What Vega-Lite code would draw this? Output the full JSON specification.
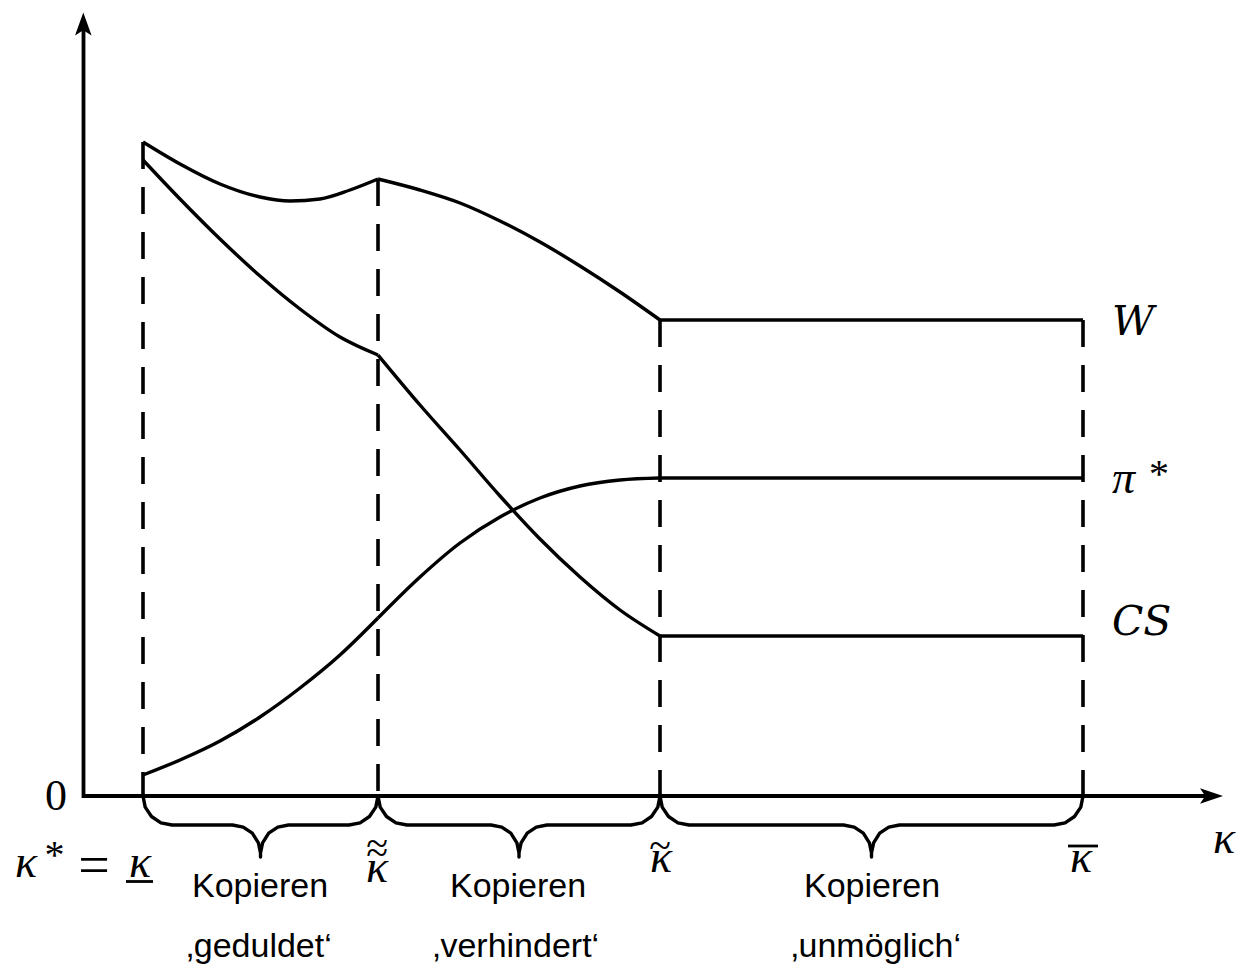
{
  "$schema": "https://vega.github.io/schema/vega-lite/v6.json",
  "width": 1238,
  "height": 968,
  "padding": 0,
  "autosize": {"type": "fit", "contains": "padding"},
  "background": "white",
  "config": {"view": {"stroke": null}},
  "datasets": {
    "axes": [
      {"x": -0.5, "y": -2, "x2": -0.5, "y2": 772},
      {"x": -2, "y": 0, "x2": 1128, "y2": 0}
    ],
    "arrowUp": [{"x": -0.7, "y": 772}],
    "arrowRight": [{"x": 1127.5, "y": 0}],
    "dashes": [
      {"x": 59, "y": 654, "y2": 0},
      {"x": 294, "y": 617, "y2": 0},
      {"x": 576, "y": 476, "y2": 0},
      {"x": 999, "y": 476, "y2": 0}
    ],
    "bars": [
      {"x": 984, "x2": 1014, "y": -50, "y2": -50},
      {"x": 42, "x2": 69, "y": -85.5, "y2": -85.5}
    ],
    "curves": [
      {"seg": "W1", "x": 59, "y": 654}, {"seg": "W1", "x": 96, "y": 632}, {"seg": "W1", "x": 136, "y": 612}, {"seg": "W1", "x": 176, "y": 599}, {"seg": "W1", "x": 206, "y": 595}, {"seg": "W1", "x": 236, "y": 597}, {"seg": "W1", "x": 266, "y": 606}, {"seg": "W1", "x": 294, "y": 617},
      {"seg": "W2", "x": 294, "y": 617}, {"seg": "W2", "x": 336, "y": 606}, {"seg": "W2", "x": 376, "y": 593}, {"seg": "W2", "x": 416, "y": 575}, {"seg": "W2", "x": 456, "y": 554}, {"seg": "W2", "x": 496, "y": 530}, {"seg": "W2", "x": 536, "y": 504}, {"seg": "W2", "x": 576, "y": 476},
      {"seg": "W3", "x": 576, "y": 476}, {"seg": "W3", "x": 999, "y": 476},
      {"seg": "CS1", "x": 59, "y": 636}, {"seg": "CS1", "x": 96, "y": 597}, {"seg": "CS1", "x": 136, "y": 557}, {"seg": "CS1", "x": 176, "y": 520}, {"seg": "CS1", "x": 216, "y": 487}, {"seg": "CS1", "x": 256, "y": 459}, {"seg": "CS1", "x": 294, "y": 441},
      {"seg": "CS2", "x": 294, "y": 441}, {"seg": "CS2", "x": 336, "y": 391}, {"seg": "CS2", "x": 376, "y": 346}, {"seg": "CS2", "x": 416, "y": 300}, {"seg": "CS2", "x": 456, "y": 257}, {"seg": "CS2", "x": 496, "y": 219}, {"seg": "CS2", "x": 536, "y": 186}, {"seg": "CS2", "x": 576, "y": 160},
      {"seg": "CS3", "x": 576, "y": 160}, {"seg": "CS3", "x": 999, "y": 160},
      {"seg": "P1", "x": 59, "y": 21}, {"seg": "P1", "x": 96, "y": 36}, {"seg": "P1", "x": 136, "y": 55}, {"seg": "P1", "x": 176, "y": 79}, {"seg": "P1", "x": 216, "y": 108}, {"seg": "P1", "x": 256, "y": 141}, {"seg": "P1", "x": 294, "y": 178},
      {"seg": "P2", "x": 294, "y": 178}, {"seg": "P2", "x": 336, "y": 219}, {"seg": "P2", "x": 376, "y": 253}, {"seg": "P2", "x": 416, "y": 279}, {"seg": "P2", "x": 456, "y": 298}, {"seg": "P2", "x": 496, "y": 310}, {"seg": "P2", "x": 536, "y": 316}, {"seg": "P2", "x": 576, "y": 318},
      {"seg": "P3", "x": 576, "y": 318}, {"seg": "P3", "x": 999, "y": 318}
    ],
    "braces": [
      {"b": 1, "i": 1, "x": 59, "y": 0}, {"b": 1, "i": 2, "x": 61.2, "y": -11.1}, {"b": 1, "i": 3, "x": 67.5, "y": -20.5}, {"b": 1, "i": 4, "x": 76.9, "y": -26.8}, {"b": 1, "i": 5, "x": 88, "y": -29}, {"b": 1, "i": 6, "x": 148.5, "y": -29}, {"b": 1, "i": 7, "x": 159.2, "y": -31.1}, {"b": 1, "i": 8, "x": 168.3, "y": -37.2}, {"b": 1, "i": 9, "x": 174.4, "y": -46.9}, {"b": 1, "i": 10, "x": 176.5, "y": -57}, {"b": 1, "i": 11, "x": 176.5, "y": -61}, {"b": 1, "i": 12, "x": 176.5, "y": -57}, {"b": 1, "i": 13, "x": 178.6, "y": -46.9}, {"b": 1, "i": 14, "x": 184.7, "y": -37.2}, {"b": 1, "i": 15, "x": 193.8, "y": -31.1}, {"b": 1, "i": 16, "x": 204.5, "y": -29}, {"b": 1, "i": 17, "x": 265, "y": -29}, {"b": 1, "i": 18, "x": 276.1, "y": -26.8}, {"b": 1, "i": 19, "x": 285.5, "y": -20.5}, {"b": 1, "i": 20, "x": 291.8, "y": -11.1}, {"b": 1, "i": 21, "x": 294, "y": 0},
      {"b": 2, "i": 1, "x": 294, "y": 0}, {"b": 2, "i": 2, "x": 296.2, "y": -11.1}, {"b": 2, "i": 3, "x": 302.5, "y": -20.5}, {"b": 2, "i": 4, "x": 311.9, "y": -26.8}, {"b": 2, "i": 5, "x": 323, "y": -29}, {"b": 2, "i": 6, "x": 407, "y": -29}, {"b": 2, "i": 7, "x": 417.7, "y": -31.1}, {"b": 2, "i": 8, "x": 426.8, "y": -37.2}, {"b": 2, "i": 9, "x": 432.9, "y": -46.9}, {"b": 2, "i": 10, "x": 435, "y": -57}, {"b": 2, "i": 11, "x": 435, "y": -61}, {"b": 2, "i": 12, "x": 435, "y": -57}, {"b": 2, "i": 13, "x": 437.1, "y": -46.9}, {"b": 2, "i": 14, "x": 443.2, "y": -37.2}, {"b": 2, "i": 15, "x": 452.3, "y": -31.1}, {"b": 2, "i": 16, "x": 463, "y": -29}, {"b": 2, "i": 17, "x": 547, "y": -29}, {"b": 2, "i": 18, "x": 558.1, "y": -26.8}, {"b": 2, "i": 19, "x": 567.5, "y": -20.5}, {"b": 2, "i": 20, "x": 573.8, "y": -11.1}, {"b": 2, "i": 21, "x": 576, "y": 0},
      {"b": 3, "i": 1, "x": 576, "y": 0}, {"b": 3, "i": 2, "x": 578.2, "y": -11.1}, {"b": 3, "i": 3, "x": 584.5, "y": -20.5}, {"b": 3, "i": 4, "x": 593.9, "y": -26.8}, {"b": 3, "i": 5, "x": 605, "y": -29}, {"b": 3, "i": 6, "x": 759.5, "y": -29}, {"b": 3, "i": 7, "x": 770.2, "y": -31.1}, {"b": 3, "i": 8, "x": 779.3, "y": -37.2}, {"b": 3, "i": 9, "x": 785.4, "y": -46.9}, {"b": 3, "i": 10, "x": 787.5, "y": -57}, {"b": 3, "i": 11, "x": 787.5, "y": -61}, {"b": 3, "i": 12, "x": 787.5, "y": -57}, {"b": 3, "i": 13, "x": 789.6, "y": -46.9}, {"b": 3, "i": 14, "x": 795.7, "y": -37.2}, {"b": 3, "i": 15, "x": 804.8, "y": -31.1}, {"b": 3, "i": 16, "x": 815.5, "y": -29}, {"b": 3, "i": 17, "x": 970, "y": -29}, {"b": 3, "i": 18, "x": 981.1, "y": -26.8}, {"b": 3, "i": 19, "x": 990.5, "y": -20.5}, {"b": 3, "i": 20, "x": 996.8, "y": -11.1}, {"b": 3, "i": 21, "x": 999, "y": 0}
    ],
    "seriesLabels": [
      {"t": "W", "x": 1028, "y": 461},
      {"t": "CS", "x": 1028, "y": 161}
    ],
    "piLabel": [{"t": "π", "x": 1028, "y": 303}],
    "kappas": [
      {"t": "κ", "x": 1140, "y": -57},
      {"t": "κ", "x": -58, "y": -81},
      {"t": "κ", "x": 56, "y": -81},
      {"t": "κ", "x": 293, "y": -86},
      {"t": "κ", "x": 577, "y": -76},
      {"t": "κ", "x": 997, "y": -76}
    ],
    "stars": [
      {"t": "*", "x": 1075, "y": 309},
      {"t": "*", "x": -29.5, "y": -72}
    ],
    "zero": [{"t": "0", "x": -17, "y": -14}],
    "equals": [{"t": "=", "x": 10, "y": -88}],
    "tildes": [
      {"t": "~", "x": 576, "y": -62.5},
      {"t": "~", "x": 293, "y": -60.5},
      {"t": "~", "x": 293, "y": -69.5}
    ],
    "regions": [
      {"t": "Kopieren", "x": 176, "y": -101},
      {"t": "Kopieren", "x": 434, "y": -101},
      {"t": "Kopieren", "x": 788, "y": -101},
      {"t": "‚geduldet‘", "x": 175, "y": -161},
      {"t": "‚verhindert‘", "x": 432, "y": -161},
      {"t": "‚unmöglich‘", "x": 792, "y": -161}
    ]
  },
  "encoding": {
    "x": {"field": "x", "type": "quantitative", "scale": {"domain": [-84, 1154], "nice": false, "zero": false}, "axis": null},
    "y": {"field": "y", "type": "quantitative", "scale": {"domain": [-172, 796], "nice": false, "zero": false}, "axis": null}
  },
  "layer": [
    {
      "data": {"name": "axes"},
      "mark": {"type": "rule", "color": "black", "strokeWidth": 3.8},
      "encoding": {"x2": {"field": "x2"}, "y2": {"field": "y2"}}
    },
    {
      "data": {"name": "arrowUp"},
      "mark": {"type": "point", "shape": "M0,-1 L0.72,1 L0,0.55 L-0.72,1 Z", "size": 529, "filled": true, "color": "black", "opacity": 1, "strokeWidth": 0}
    },
    {
      "data": {"name": "arrowRight"},
      "mark": {"type": "point", "shape": "M1,0 L-1,-0.68 L-0.55,0 L-1,0.68 Z", "size": 529, "filled": true, "color": "black", "opacity": 1, "strokeWidth": 0}
    },
    {
      "data": {"name": "dashes"},
      "mark": {"type": "rule", "color": "black", "strokeWidth": 3.6, "strokeDash": [27, 18]},
      "encoding": {"y2": {"field": "y2"}}
    },
    {
      "data": {"name": "curves"},
      "mark": {"type": "line", "color": "black", "strokeWidth": 3.4, "interpolate": "monotone", "strokeJoin": "round"},
      "encoding": {"detail": {"field": "seg", "type": "nominal"}}
    },
    {
      "data": {"name": "braces"},
      "mark": {"type": "line", "color": "black", "strokeWidth": 3.4, "strokeJoin": "round", "strokeCap": "round"},
      "encoding": {"detail": {"field": "b", "type": "nominal"}, "order": {"field": "i", "type": "quantitative"}}
    },
    {
      "data": {"name": "bars"},
      "mark": {"type": "rule", "color": "black", "strokeWidth": 2.8},
      "encoding": {"x2": {"field": "x2"}, "y2": {"field": "y2"}}
    },
    {
      "data": {"name": "seriesLabels"},
      "mark": {"type": "text", "font": "DejaVu Serif", "fontStyle": "italic", "fontSize": 41, "align": "left", "baseline": "alphabetic", "color": "black"},
      "encoding": {"text": {"field": "t"}}
    },
    {
      "data": {"name": "piLabel"},
      "mark": {"type": "text", "font": "Liberation Serif", "fontStyle": "italic", "fontSize": 46, "align": "left", "baseline": "alphabetic", "color": "black"},
      "encoding": {"text": {"field": "t"}}
    },
    {
      "data": {"name": "kappas"},
      "mark": {"type": "text", "font": "Liberation Serif", "fontStyle": "italic", "fontSize": 46, "align": "center", "baseline": "alphabetic", "color": "black"},
      "encoding": {"text": {"field": "t"}}
    },
    {
      "data": {"name": "stars"},
      "mark": {"type": "text", "font": "Liberation Serif", "fontSize": 40, "align": "center", "baseline": "alphabetic", "color": "black"},
      "encoding": {"text": {"field": "t"}}
    },
    {
      "data": {"name": "zero"},
      "mark": {"type": "text", "font": "Liberation Serif", "fontSize": 44, "align": "right", "baseline": "alphabetic", "color": "black"},
      "encoding": {"text": {"field": "t"}}
    },
    {
      "data": {"name": "equals"},
      "mark": {"type": "text", "font": "Liberation Serif", "fontSize": 56, "align": "center", "baseline": "alphabetic", "color": "black"},
      "encoding": {"text": {"field": "t"}}
    },
    {
      "data": {"name": "tildes"},
      "mark": {"type": "text", "font": "Liberation Serif", "fontSize": 40, "align": "center", "baseline": "alphabetic", "color": "black"},
      "encoding": {"text": {"field": "t"}}
    },
    {
      "data": {"name": "regions"},
      "mark": {"type": "text", "font": "Liberation Sans", "fontSize": 34, "align": "center", "baseline": "alphabetic", "color": "black"},
      "encoding": {"text": {"field": "t"}}
    }
  ]
}
